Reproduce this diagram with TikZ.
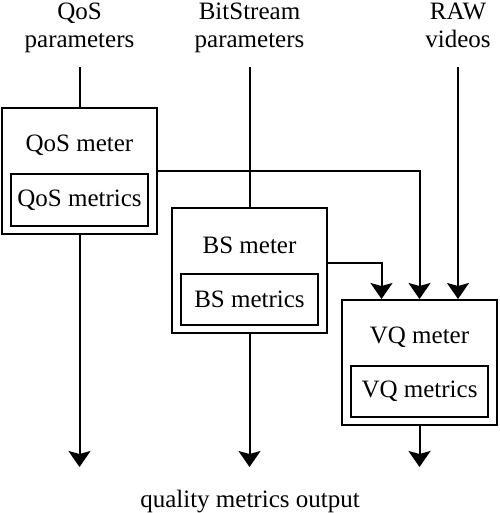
\documentclass[tikz,border=0pt]{standalone}
\usepackage{fontspec}
\setmainfont{Liberation Serif}
\usetikzlibrary{arrows.meta}

\begin{document}
\begin{tikzpicture}[x=0.5pt, y=-0.5pt, line width=1pt,
    >={Stealth[length=8pt, width=11pt, inset=1.5pt]},
    every node/.style={font=\fontsize{12.5}{14}\selectfont},
    src/.style={align=center, anchor=south, inner ysep=4.8pt},
    meter/.style={draw, minimum width=77.5pt, minimum height=62.5pt},
    metric/.style={draw, minimum width=68.75pt, minimum height=25.75pt, inner sep=0pt}]
    \useasboundingbox (0,0) rectangle (499,513);
    \node[src] (qosp) at (79.5,67) {QoS\\parameters\strut};
    \node[src] (bsp) at (249.5,67) {BitStream\\parameters\strut};
    \node[src] (raw) at (458,67) {RAW\\videos\strut};
    \node[meter, minimum height=63pt] (qos) at (79.5,171) {};
    \node[meter] (bs) at (249.5,270.5) {};
    \node[meter] (vq) at (419.5,362.5) {};
    \node (qost) at (79.5,145) {QoS meter};
    \node (bst) at (249.5,245) {BS meter};
    \node (vqt) at (419.5,337) {VQ meter};
    \node[metric] (qosm) at (79.5,200) {QoS metrics};
    \node[metric] (bsm) at (249.5,299.5) {BS metrics};
    \node[metric] (vqm) at (419.5,391.5) {VQ metrics};
    \node[anchor=north, inner ysep=11pt] (out) at (250,467) {quality metrics output};
    \draw (qosp.south) -- (qos.north);
    \draw (bsp.south) -- (bs.north);
    \draw[->] (raw.south) -- (raw.south |- vq.north);
    \draw[->] (qos.east) -| (vq.north);
    \draw[->] ([yshift=3.75pt]bs.east) -| ([xshift=-19pt]vq.north);
    \draw[->] (qos.south) -- (qos.south |- out.north);
    \draw[->] (bs.south) -- (bs.south |- out.north);
    \draw[->] (vq.south) -- (vq.south |- out.north);
\end{tikzpicture}
\end{document}
